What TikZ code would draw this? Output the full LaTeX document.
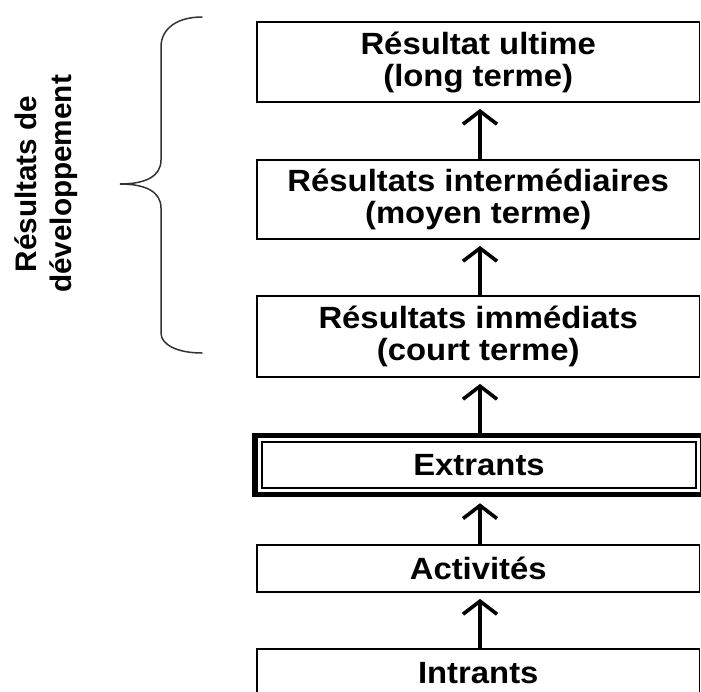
\documentclass[tikz,border=0pt]{standalone}
\usepackage{fontspec}
\setmainfont{Liberation Sans}[FakeStretch=1.07]
\newfontfamily\rotfont{Liberation Sans}
\usetikzlibrary{arrows.meta}
\begin{document}
\begin{tikzpicture}[x=1pt,y=-1pt,
  box/.style={draw=black, line width=1.8pt, minimum width=442.5pt, inner sep=0pt, align=center,
    font=\fontsize{30.7}{32}\selectfont\bfseries},
  upar/.style={line width=3.6pt, shorten >=6pt, -{Straight Barb[length=13pt,width=34pt]}},
  brace/.style={line width=1.5pt, draw=black!80, line cap=round}]
\useasboundingbox (0,0) rectangle (701,691);
\clip (0,0) rectangle (701,691);
\fill[white] (0,0) rectangle (701,691);

\node[box, minimum height=80pt] (ult) at (478.25,62) {Résultat ultime\\(long terme)};
\node[box, minimum height=79pt] (int) at (478.25,199.5) {Résultats intermédiaires\\(moyen terme)};
\node[box, minimum height=81pt] (imm) at (478.25,336.5) {Résultats immédiats\\(court terme)};
\node[draw=black, line width=5.5pt, minimum width=448pt, minimum height=59pt, inner sep=0pt] (ext) at (479,465) {};
\node[box, minimum width=434pt, minimum height=46pt] (extin) at (479,465) {Extrants};
\node[box, minimum height=47pt] (act) at (478.25,568.5) {Activités};
\node[box, minimum height=48pt] (intr) at (478.25,673) {Intrants};

\draw[upar] ([xshift=1.75pt]int.north) -- ([xshift=1.75pt]ult.south);
\draw[upar] ([xshift=1.75pt]imm.north) -- ([xshift=1.75pt]int.south);
\draw[upar] ([xshift=1pt]ext.north) -- ([xshift=1.75pt]imm.south);
\draw[upar] ([xshift=1.75pt]act.north) -- ([xshift=1pt]ext.south);
\draw[upar] ([xshift=1.75pt]intr.north) -- ([xshift=1.75pt]act.south);

\draw[brace] (202,17) .. controls (178,17) and (161,28) .. (161,47) -- (161,160)
  .. controls (161,176) and (146,184) .. (120,184)
  .. controls (146,184) and (161,192) .. (161,208) -- (161,333)
  .. controls (161,345) and (178,353) .. (202,353);

\node[rotate=90, align=center, inner sep=0pt, font=\rotfont\fontsize{29.7}{35}\selectfont\bfseries] (lbl) at (46.5,184) {Résultats de\\développement};
\end{tikzpicture}
\end{document}
